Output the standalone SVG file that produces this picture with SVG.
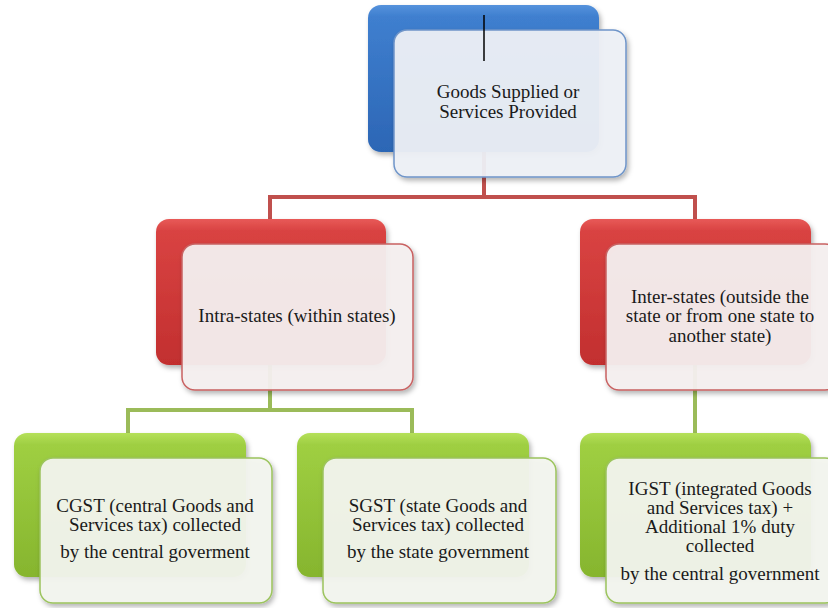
<svg xmlns="http://www.w3.org/2000/svg" width="828" height="608" viewBox="0 0 828 608">
<defs>
<linearGradient id="gBlue" x1="0" y1="0" x2="0" y2="1">
<stop offset="0" stop-color="#5592dc"/><stop offset="0.08" stop-color="#3f7fcf"/><stop offset="1" stop-color="#2c66b5"/>
</linearGradient>
<linearGradient id="gRed" x1="0" y1="0" x2="0" y2="1">
<stop offset="0" stop-color="#e85a58"/><stop offset="0.08" stop-color="#d94342"/><stop offset="1" stop-color="#c22f2f"/>
</linearGradient>
<linearGradient id="gGreen" x1="0" y1="0" x2="0" y2="1">
<stop offset="0" stop-color="#b5e05a"/><stop offset="0.08" stop-color="#9fcf42"/><stop offset="1" stop-color="#86b52e"/>
</linearGradient>
<filter id="sh" x="-10%" y="-10%" width="130%" height="130%">
<feDropShadow dx="2" dy="3" stdDeviation="2.5" flood-color="#000" flood-opacity="0.3"/>
</filter>
</defs>
<style>
.back{filter:url(#sh)}
.front{filter:url(#sh);stroke-width:1.5}
.fb{fill:#eef1f6;fill-opacity:0.94;stroke:#6f95c9}
.fr{fill:#f5f0f0;fill-opacity:0.94;stroke:#c96262}
.fg{fill:#f3f5ef;fill-opacity:0.94;stroke:#9cc45e}
.t{font-family:"Liberation Serif",serif;font-size:19px;fill:#1a1a1a;text-anchor:middle}
.cr{fill:none;stroke:#c0504d;stroke-width:4}
.cg{fill:none;stroke:#9bbb59;stroke-width:4}
</style>
<g id="connectors">
<path class="cr" d="M484,152 V197 M270,197 H695 M270,195 V222 M695,195 V222"/>
<path class="cg" d="M270,365 V410 M128,410 H412 M128,408 V436 M412,408 V436 M695,365 V436"/>
</g>
<g id="node-goods">
<rect class="back" x="368" y="5" width="231" height="147" rx="13" fill="url(#gBlue)"/>
<rect class="front fb" x="394" y="30" width="232" height="147" rx="13"/>
<text class="t" x="508" y="98">Goods Supplied or</text>
<text class="t" x="508" y="118">Services Provided</text>
</g>
<g id="node-intra">
<rect class="back" x="156" y="219" width="230" height="146" rx="13" fill="url(#gRed)"/>
<rect class="front fr" x="182" y="244" width="231" height="146" rx="13"/>
<text class="t" x="297" y="322">Intra-states (within states)</text>
</g>
<g id="node-inter">
<rect class="back" x="580" y="219" width="231" height="146" rx="13" fill="url(#gRed)"/>
<rect class="front fr" x="606" y="244" width="232" height="146" rx="13"/>
<text class="t" x="720" y="303">Inter-states (outside the</text>
<text class="t" x="720" y="322">state or from one state to</text>
<text class="t" x="720" y="342">another state)</text>
</g>
<g id="node-cgst">
<rect class="back" x="14" y="433" width="232" height="144" rx="13" fill="url(#gGreen)"/>
<rect class="front fg" x="40" y="458" width="232" height="145" rx="13"/>
<text class="t" x="155" y="512">CGST (central Goods and</text>
<text class="t" x="155" y="531">Services tax) collected</text>
<text class="t" x="155" y="558">by the central goverment</text>
</g>
<g id="node-sgst">
<rect class="back" x="297" y="433" width="232" height="144" rx="13" fill="url(#gGreen)"/>
<rect class="front fg" x="323" y="458" width="233" height="145" rx="13"/>
<text class="t" x="438" y="512">SGST (state Goods and</text>
<text class="t" x="438" y="531">Services tax) collected</text>
<text class="t" x="438" y="558">by the state government</text>
</g>
<g id="node-igst">
<rect class="back" x="580" y="433" width="231" height="144" rx="13" fill="url(#gGreen)"/>
<rect class="front fg" x="606" y="458" width="232" height="145" rx="13"/>
<text class="t" x="720" y="495">IGST (integrated Goods</text>
<text class="t" x="720" y="514">and Services tax) +</text>
<text class="t" x="720" y="533">Additional 1% duty</text>
<text class="t" x="720" y="552">collected</text>
<text class="t" x="720" y="580">by the central government</text>
</g>
<g id="marker-line">
<line x1="484" y1="15" x2="484" y2="61" stroke="#000" stroke-width="1.5"/>
</g>
</svg>
